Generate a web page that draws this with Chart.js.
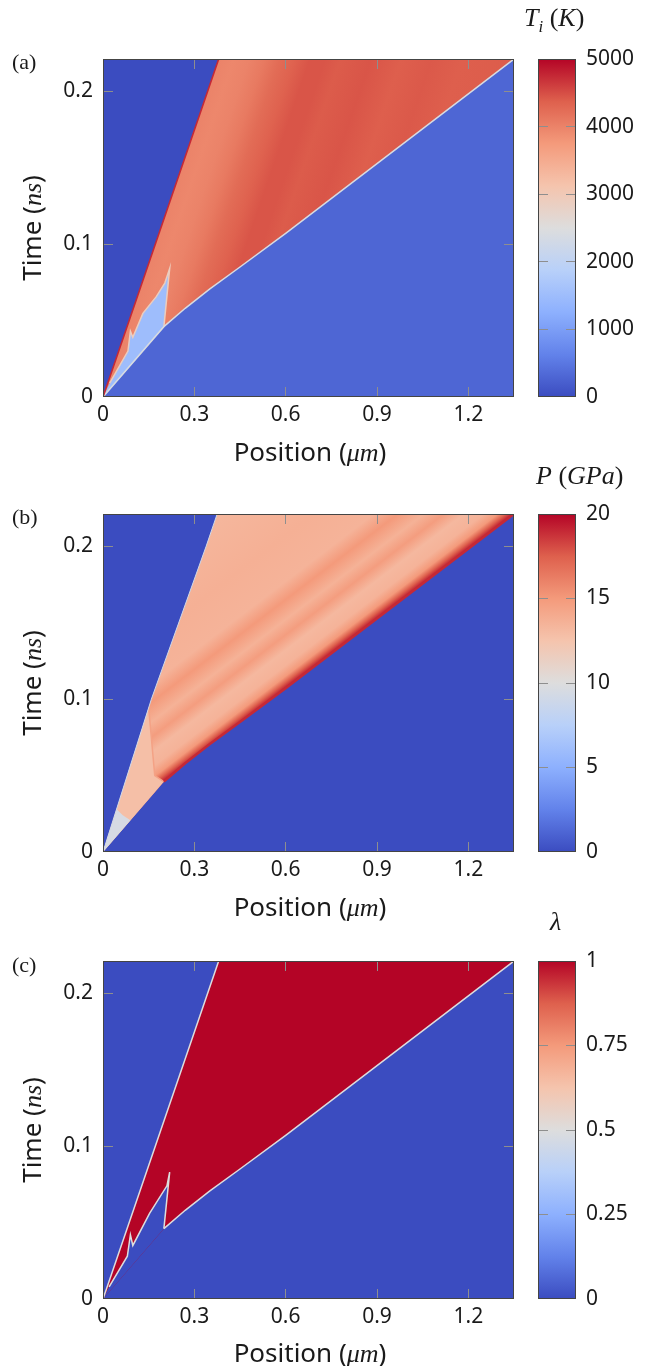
<!DOCTYPE html>
<html>
<head>
<title>Shock heatmaps</title>
<script src="https://cdn.jsdelivr.net/npm/chart.js"></script>
<style>
  body { margin: 0; background: #fff; }
  #page { position: relative; width: 650px; height: 1366px; overflow: hidden; color: #1a1a1a;
          font-family: "Noto Sans", sans-serif; }
  canvas { position: absolute; }
  .txt { position: absolute; white-space: nowrap; line-height: 1; }
  .tag { font-family: "Liberation Serif", serif; font-size: 22px; transform: translateY(-50%); }
  .cbt { font-family: "Liberation Serif", serif; font-size: 26px; transform: translateY(-50%); }
  .xt { font-size: 26px; transform: translate(-50%, -50%); }
  .yt { font-size: 26px; transform: translate(-50%, -50%) rotate(-90deg); }
  .m { font-family: "Liberation Serif", serif; font-style: italic; }
  sub { font-size: 65%; vertical-align: -0.35em; }
</style>
</head>
<body>
<div id="page">
  <canvas id="mapA"></canvas><canvas id="barA"></canvas>
  <canvas id="mapB"></canvas><canvas id="barB"></canvas>
  <canvas id="mapC"></canvas><canvas id="barC"></canvas>

  <div class="txt tag" style="left:12px; top:62px">(a)</div>
  <div class="txt cbt" style="left:524px; top:20px"><span class="m">T<sub>i</sub></span> (<span class="m">K</span>)</div>
  <div class="txt yt" style="left:32px; top:228px">Time (<span class="m">ns</span>)</div>
  <div class="txt xt" style="left:310px; top:452px">Position (<span class="m">μm</span>)</div>

  <div class="txt tag" style="left:12px; top:517px">(b)</div>
  <div class="txt cbt" style="left:536px; top:476px"><span class="m">P</span> (<span class="m">GPa</span>)</div>
  <div class="txt yt" style="left:32px; top:683px">Time (<span class="m">ns</span>)</div>
  <div class="txt xt" style="left:310px; top:907px">Position (<span class="m">μm</span>)</div>

  <div class="txt tag" style="left:12px; top:965px">(c)</div>
  <div class="txt cbt" style="left:550px; top:922px"><span class="m">λ</span></div>
  <div class="txt yt" style="left:32px; top:1130px">Time (<span class="m">ns</span>)</div>
  <div class="txt xt" style="left:310px; top:1353px">Position (<span class="m">μm</span>)</div>
</div>

<script>
// axes
const xMax = 1.35;   // um
const tMax = 0.221;  // ns
const xTicks = [0, 0.3, 0.6, 0.9, 1.2];
const tTicks = [0, 0.1, 0.2];

// colour bar ticks
const tempTicks = [0, 1000, 2000, 3000, 4000, 5000];
const presTicks = [0, 5, 10, 15, 20];
const lamTicks = [0, 0.25, 0.5, 0.75, 1];

// melt front, left edge of the wedge (position um, time ns)
const frontX = [0, 0.19, 0.38];
const frontT = [0, 0.1105, 0.221];
// front as seen in the pressure map
const bFrontX = [0, 0.159, 0.339, 0.375];
const bFrontT = [0, 0.1, 0.2, 0.221];
// shock, right edge of the wedge
const shockX = [0, 0.2, 0.27, 0.35, 0.45, 0.6, 1.35];
const shockT = [0, 0.046, 0.058, 0.0705, 0.085, 0.107, 0.221];
// cold spike inside the wedge: from its foot on the shock, over the tip, back to the origin
const spikeAX = [0.2, 0.219, 0.203, 0.175, 0.131, 0.098, 0.09, 0.082, 0.022, 0];
const spikeAT = [0.046, 0.084, 0.0745, 0.0656, 0.0547, 0.039, 0.043, 0.03, 0.009, 0];
const spikeCX = [0.2, 0.219, 0.21, 0.153, 0.098, 0.09, 0.08, 0.02, 0];
const spikeCT = [0.046, 0.083, 0.074, 0.056, 0.035, 0.042, 0.028, 0.008, 0];

// (a) temperature, K
const tempAhead = 0;
const tempShocked = 300;
const tempSpike = 1500;
const tempEdge = 4750;
// temperature inside the wedge vs. distance behind the front (um)
const aOff = [0, 0.05, 0.1, 0.15, 0.2, 0.25, 0.3, 0.35, 0.4, 0.5, 0.6, 0.7, 0.8, 1.0];
const aTemp = [4000, 3950, 4000, 4100, 4250, 4350, 4450, 4450, 4400, 4450, 4380, 4420, 4380, 4400];

// (b) pressure, GPa, vs. time above the shock line (ns)
const bOff = [-0.03, -0.01, -0.003, 0, 0.004, 0.008, 0.015, 0.025, 0.035, 0.045, 0.058, 0.07, 0.1, 0.15, 0.2];
const bPres = [12.5, 13, 16, 19.5, 17.5, 15, 13.5, 13.2, 14.8, 13.6, 15, 13.5, 13.7, 13.3, 13.2];
// lower-left part of the wedge and the pale zone at the origin
const bLowX = [0, 0.15, 0.17, 0.2];
const bLowT = [0, 0.0943, 0.05, 0.046];
const bLowPres = 12.8;
const paleX = [0, 0.045, 0.065, 0.09];
const paleT = [0, 0.028, 0.024, 0.0207];
const palePres = 9.5;
const kinkPres = 14.5;
const shockPres = 19;

// (c) phase fraction
const lamIn = 1;
const lamOut = 0;

// coolwarm colour map
const cwStops = [[59,76,192],[98,130,234],[141,176,254],[184,208,249],[221,221,221],
                 [245,196,173],[244,154,123],[222,96,77],[180,4,38]];
function coolwarm(f) {
  f = Math.min(1, Math.max(0, f));
  const s = f * (cwStops.length - 1);
  const i = Math.min(Math.floor(s), cwStops.length - 2);
  const r = s - i;
  const a = cwStops[i], b = cwStops[i + 1];
  return 'rgb(' + [0, 1, 2].map(k => Math.round(a[k] + (b[k] - a[k]) * r)).join(',') + ')';
}

function pts(xs, ts) { return xs.map((x, i) => ({x: x, y: ts[i]})); }
const box = pts([0, xMax, xMax, 0], [0, 0, tMax, tMax]);
const front = pts(frontX, frontT);
const shock = pts(shockX, shockT);
const wedge = front.concat(shock.slice().reverse());
const bWedge = pts(bFrontX, bFrontT).concat(shock.slice().reverse());
const behindShock = shock.concat([{x: xMax, y: 0}]);
const spikeA = pts(spikeAX, spikeAT);
const spikeC = pts(spikeCX, spikeCT);
const upperShock = shock.filter(p => p.x >= 0.2);

function ok() { return Array.prototype.every.call(arguments, Number.isFinite); }

// gradient across the wedge, banded parallel to the front
function frontGradient(c) {
  const ch = c.chart, sx = ch.scales.x, sy = ch.scales.y;
  if (!sx || !sy) return coolwarm(0.88);
  const ox = sx.getPixelForValue(frontX[0]), oy = sy.getPixelForValue(frontT[0]);
  let ux = sx.getPixelForValue(frontX[frontX.length - 1]) - ox;
  let uy = sy.getPixelForValue(frontT[frontT.length - 1]) - oy;
  const len = Math.hypot(ux, uy);
  if (!ok(ox, oy, ux, uy) || !len) return coolwarm(0.88);
  ux /= len; uy /= len;
  let nx = -uy, ny = ux;
  if (nx < 0) { nx = -nx; ny = -ny; }
  const hMax = aOff[aOff.length - 1];
  const d = (sx.getPixelForValue(hMax) - sx.getPixelForValue(0)) * nx;
  const g = ch.ctx.createLinearGradient(ox, oy, ox + nx * d, oy + ny * d);
  aOff.forEach((o, i) => g.addColorStop(o / hMax, coolwarm(aTemp[i] / 5000)));
  return g;
}

// gradient banded parallel to the shock
function shockGradient(c) {
  const ch = c.chart, sx = ch.scales.x, sy = ch.scales.y;
  if (!sx || !sy) return coolwarm(0.68);
  const n = shockX.length;
  const ax = sx.getPixelForValue(shockX[n - 2]), ay = sy.getPixelForValue(shockT[n - 2]);
  let ux = sx.getPixelForValue(shockX[n - 1]) - ax, uy = sy.getPixelForValue(shockT[n - 1]) - ay;
  const len = Math.hypot(ux, uy);
  if (!ok(ax, ay, ux, uy) || !len) return coolwarm(0.68);
  ux /= len; uy /= len;
  let nx = uy, ny = -ux;
  if (ny > 0) { nx = -nx; ny = -ny; }
  const perNs = sy.getPixelForValue(0) - sy.getPixelForValue(1);
  const lo = bOff[0], hi = bOff[bOff.length - 1];
  const d0 = lo * perNs * (-ny), d1 = hi * perNs * (-ny);
  const g = ch.ctx.createLinearGradient(ax + nx * d0, ay + ny * d0, ax + nx * d1, ay + ny * d1);
  bOff.forEach((o, i) => g.addColorStop((o - lo) / (hi - lo), coolwarm(bPres[i] / 20)));
  return g;
}

const PAD_T = 12, PLOT_W = 411, PLOT_H = 338, LEFT = 103;
const tickFont = {family: '"Noto Sans", sans-serif', size: 21};
const inner = c => (c.tick && c.tick.value === 0) ? 'rgba(0,0,0,0)' : '#8e8e8e';
function noPad(s) { s.paddingTop = 0; s.paddingBottom = 0; s.paddingLeft = 0; s.paddingRight = 0; }

const frame = {
  id: 'frame',
  afterDraw(chart) {
    const a = chart.chartArea, c = chart.ctx;
    c.save();
    c.strokeStyle = '#444';
    c.lineWidth = 1;
    c.strokeRect(Math.round(a.left) + 0.5, Math.round(a.top) + 0.5, Math.round(a.width) - 1, Math.round(a.height) - 1);
    c.restore();
  }
};

function area(data, color) { return {data: data, fill: 'shape', backgroundColor: color}; }
function edge(data, color, w) { return {data: data, borderColor: color, borderWidth: w}; }

function heatmap(id, top, sets) {
  const cv = document.getElementById(id);
  cv.width = 530; cv.height = PAD_T + PLOT_H + 40;
  cv.style.left = '0px'; cv.style.top = (top - PAD_T) + 'px';
  const datasets = sets.map((d, i) => Object.assign({
    showLine: true, pointRadius: 0, tension: 0, clip: 0, borderWidth: 0, fill: false,
    order: sets.length - i
  }, d));
  const chart = new Chart(cv, {
    type: 'scatter',
    data: {datasets: datasets},
    options: {
      responsive: false, animation: false, devicePixelRatio: 1, events: [],
      layout: {padding: {top: PAD_T, right: 530 - LEFT - PLOT_W, left: 0, bottom: 0}},
      plugins: {legend: {display: false}, tooltip: {enabled: false}},
      scales: {
        x: {
          type: 'linear', min: 0, max: xMax,
          afterFit: s => { s.height = 40; noPad(s); },
          afterBuildTicks: s => { s.ticks = xTicks.map(v => ({value: v})); },
          ticks: {font: tickFont, color: '#1a1a1a', padding: 5, maxRotation: 0, callback: v => String(v)},
          grid: {color: inner, drawTicks: false, z: 1},
          border: {display: false, dash: [10, PLOT_H - 20]}
        },
        y: {
          type: 'linear', min: 0, max: tMax,
          afterFit: s => { s.width = LEFT; noPad(s); },
          afterBuildTicks: s => { s.ticks = tTicks.map(v => ({value: v})); },
          ticks: {font: tickFont, color: '#1a1a1a', padding: 10, callback: v => String(v)},
          grid: {color: inner, drawTicks: false, z: 1},
          border: {display: false, dash: [10, PLOT_W - 20]}
        }
      }
    },
    plugins: [frame]
  });
  chart.update();
  return chart;
}

function colorbar(id, top, ticks) {
  const cv = document.getElementById(id);
  cv.width = 150; cv.height = PAD_T + PLOT_H + 40;
  cv.style.left = '500px'; cv.style.top = (top - PAD_T) + 'px';
  const lo = ticks[0], hi = ticks[ticks.length - 1];
  const ends = c => (c.tick && (c.tick.value === lo || c.tick.value === hi)) ? 'rgba(0,0,0,0)' : '#8e8e8e';
  const chart = new Chart(cv, {
    type: 'bar',
    data: {
      labels: [''],
      datasets: [{
        data: [[lo, hi]], barPercentage: 1, categoryPercentage: 1, borderWidth: 0,
        backgroundColor: c => {
          const s = c.chart.scales.y;
          if (!s) return coolwarm(0.5);
          const y0 = s.getPixelForValue(lo), y1 = s.getPixelForValue(hi);
          if (!ok(y0, y1) || y0 === y1) return coolwarm(0.5);
          const g = c.chart.ctx.createLinearGradient(0, y0, 0, y1);
          cwStops.forEach((col, i) => g.addColorStop(i / (cwStops.length - 1), 'rgb(' + col.join(',') + ')'));
          return g;
        }
      }]
    },
    options: {
      responsive: false, animation: false, devicePixelRatio: 1, events: [],
      layout: {padding: {top: PAD_T, left: 38, right: 0, bottom: 40}},
      plugins: {legend: {display: false}, tooltip: {enabled: false}},
      scales: {
        x: {display: false},
        y: {
          position: 'right', min: lo, max: hi,
          afterFit: s => { s.width = 150 - 38 - 38; noPad(s); },
          afterBuildTicks: s => { s.ticks = ticks.map(v => ({value: v})); },
          ticks: {font: tickFont, color: '#1a1a1a', padding: 10, callback: v => String(v)},
          grid: {color: ends, drawTicks: false, z: 1},
          border: {display: false, dash: [10, 18]}
        }
      }
    },
    plugins: [frame]
  });
  chart.update();
  return chart;
}

// (a) temperature
heatmap('mapA', 59, [
  area(box, coolwarm(tempAhead / 5000)),
  area(behindShock, coolwarm(tempShocked / 5000)),
  area(wedge, frontGradient),
  area(spikeA, coolwarm(tempSpike / 5000)),
  edge(spikeA.slice(0, 9), coolwarm(0.58), 1.5),
  edge(shock, coolwarm(0.48), 1.5),
  edge(front, coolwarm(tempEdge / 5000), 1.6)
]);
colorbar('barA', 59, tempTicks);

// (b) pressure
heatmap('mapB', 514, [
  area(box, coolwarm(0)),
  area(bWedge, shockGradient),
  area(pts(bLowX, bLowT), coolwarm(bLowPres / 20)),
  area(pts(paleX, paleT), coolwarm(palePres / 20)),
  edge(pts(bLowX.slice(1), bLowT.slice(1)), coolwarm(kinkPres / 20), 1.5),
  edge(upperShock, coolwarm(shockPres / 20), 2.5),
  edge(pts(bFrontX, bFrontT), coolwarm(0.45), 1)
]);
colorbar('barB', 514, presTicks);

// (c) phase fraction
heatmap('mapC', 961, [
  area(box, coolwarm(lamOut)),
  area(wedge, coolwarm(lamIn)),
  area(spikeC, coolwarm(lamOut)),
  edge(spikeC.slice(0, 8), coolwarm(0.5), 1.5),
  edge(upperShock, coolwarm(0.5), 1.5),
  edge(front, coolwarm(0.5), 1.5)
]);
colorbar('barC', 961, lamTicks);
</script>
</body>
</html>
